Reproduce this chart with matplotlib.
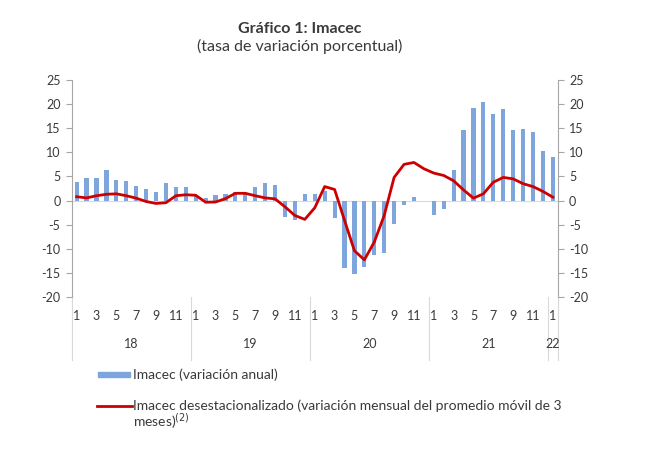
import matplotlib.pyplot as plt
from matplotlib.lines import Line2D
from matplotlib.patches import Rectangle
import numpy as np

plt.rcParams['font.family'] = ['Lato', 'DejaVu Sans']
plt.rcParams['axes.unicode_minus'] = False

# months Jan 2018 .. Jan 2022
years = ["18", "19", "20", "21", "22"]
months_per_year = [12, 12, 12, 12, 1]
month_numbers = [m for n in months_per_year for m in range(1, n + 1)]

# Imacec (variacion anual)
imacec_anual = [
    3.9, 4.7, 4.6, 6.3, 4.2, 4.0, 3.0, 2.4, 1.7, 3.6, 2.8, 2.8,
    1.2, 0.6, 1.1, 1.4, 1.7, 1.4, 2.9, 3.7, 3.3, -3.5, -4.0, 1.4,
    1.3, 1.9, -3.6, -14.0, -15.3, -13.7, -11.2, -10.8, -4.8, -0.9, 0.7, 0.0,
    -2.9, -1.8, 6.3, 14.7, 19.2, 20.5, 18.0, 19.0, 14.7, 14.9, 14.2, 10.2,
    9.0,
]
# Imacec desestacionalizado (variacion mensual del promedio movil de 3 meses)
imacec_desest = [
    0.8, 0.55, 1.0, 1.3, 1.4, 1.0, 0.5, -0.2, -0.6, -0.45, 1.0, 1.2,
    1.1, -0.35, -0.3, 0.4, 1.5, 1.5, 1.0, 0.55, 0.35, -1.3, -3.1, -3.9,
    -1.5, 2.9, 2.3, -4.1, -10.4, -12.3, -8.6, -3.1, 4.8, 7.5, 7.9, 6.6,
    5.7, 5.2, 4.1, 2.2, 0.5, 1.4, 3.8, 4.8, 4.5, 3.5, 2.9, 1.9,
    0.7,
]

txt_color = '#3A3A3A'
axis_color = '#A6A6A6'
bar_color = '#7EA6DC'
line_color = '#CC0000'

x = np.arange(len(imacec_anual))

fig = plt.figure(figsize=(6.5, 4.51), dpi=100)
ax = fig.add_axes([71.7 / 650, 1 - 297 / 451, (557.8 - 71.7) / 650, 217 / 451])

ax.axhline(0, color='#D9D9D9', lw=0.8, zorder=0)
ax.bar(x, imacec_anual, width=0.42, color=bar_color, zorder=2)
ax.plot(x, imacec_desest, color=line_color, lw=2.0, zorder=3, solid_joinstyle='round')

ax.set_xlim(-0.5, len(x) - 0.5)
ax.set_ylim(-20, 25)
ax.set_yticks(range(-20, 26, 5))

for side in ['top', 'bottom']:
    ax.spines[side].set_visible(False)
for side in ['left', 'right']:
    ax.spines[side].set_color(axis_color)
    ax.spines[side].set_linewidth(0.8)

ax.tick_params(axis='y', left=True, right=True, labelleft=True, labelright=True,
               direction='out', length=4, width=0.8, color=axis_color,
               labelsize=9, labelcolor=txt_color, pad=4)

# month labels (odd months only)
ax.set_xticks(x[::2])
ax.set_xticklabels([str(m) for m in month_numbers[::2]])
ax.tick_params(axis='x', length=0, labelsize=9, labelcolor=txt_color, pad=9)

# year labels and separators
trans = ax.get_xaxis_transform()
start = 0
bounds = [-0.5]
for yr, n in zip(years, months_per_year):
    center = start + (n - 1) / 2
    ax.text(center, -0.215, yr, transform=trans, ha='center', va='center',
            fontsize=9, color=txt_color)
    start += n
    bounds.append(start - 0.5)
for b in bounds:
    ax.add_line(Line2D([b, b], [0, -0.29], transform=trans, color='#D9D9D9',
                       lw=0.8, clip_on=False))

# titles
fig.text(300 / 650, 1 - 29 / 451, "Gráfico 1: Imacec", ha='center', va='center',
         fontsize=11.5, fontweight='bold', color=txt_color)
fig.text(300 / 650, 1 - 46 / 451, "(tasa de variación porcentual)", ha='center',
         va='center', fontsize=11.5, color=txt_color)

# legend
fig.patches.append(Rectangle((98 / 650, 1 - 377 / 451), 32 / 650, 5 / 451,
                             transform=fig.transFigure, color=bar_color))
fig.text(133 / 650, 1 - 375 / 451, "Imacec (variación anual)", ha='left', va='center',
         fontsize=10, color=txt_color)
fig.lines.append(Line2D([97 / 650, 132 / 650], [1 - 406 / 451, 1 - 406 / 451],
                        transform=fig.transFigure, color=line_color, lw=2.0))
fig.text(133 / 650, 1 - 406 / 451,
         "Imacec desestacionalizado (variación mensual del promedio móvil de 3",
         ha='left', va='center', fontsize=10, color=txt_color)
fig.text(133 / 650, 1 - 421 / 451, "meses)$^{(2)}$", ha='left', va='center',
         fontsize=10, color=txt_color)

fig.savefig("out.png", dpi=100, facecolor='white')
